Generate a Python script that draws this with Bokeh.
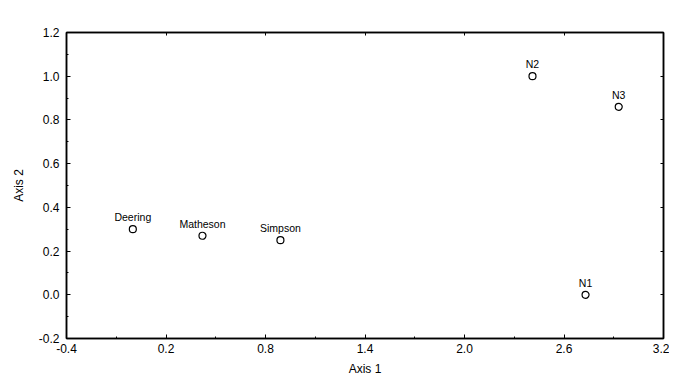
from bokeh.plotting import figure
from bokeh.models import ColumnDataSource, FixedTicker, LinearAxis, Range1d, CustomJSTickFormatter
from bokeh.core.properties import value
from bokeh.embed import file_html
from bokeh.resources import INLINE

# Data
sites = ["Deering", "Matheson", "Simpson", "N1", "N2", "N3"]
axis1 = [0.0, 0.42, 0.89, 2.73, 2.41, 2.93]
axis2 = [0.30, 0.27, 0.25, 0.00, 1.00, 0.86]

x_ticks = [-0.4, 0.2, 0.8, 1.4, 2.0, 2.6, 3.2]
y_ticks = [-0.2, 0.0, 0.2, 0.4, 0.6, 0.8, 1.0, 1.2]
x_minor = [-0.1, 0.5, 1.1, 1.7, 2.3, 2.9]
y_minor = [-0.1, 0.1, 0.3, 0.5, 0.7, 0.9, 1.1]

FONT = "Liberation Sans"

src = ColumnDataSource(dict(x=axis1, y=axis2, name=sites))

p = figure(width=669, height=378, output_backend="svg", toolbar_location=None,
           x_range=Range1d(-0.4, 3.2), y_range=Range1d(-0.2, 1.2),
           min_border_left=66, min_border_right=6, min_border_top=32,
           min_border_bottom=36, x_axis_label="Axis 1", y_axis_label="Axis 2")

p.grid.visible = False
p.outline_line_color = "black"
p.outline_line_width = 1.5
p.outline_line_alpha = 1.0
p.background_fill_color = "white"
p.border_fill_color = "white"

p.xaxis.ticker = FixedTicker(ticks=x_ticks, minor_ticks=x_minor)
p.yaxis.ticker = FixedTicker(ticks=y_ticks, minor_ticks=y_minor)
p.xaxis.formatter = CustomJSTickFormatter(code="return tick.toFixed(1);")
p.yaxis.formatter = CustomJSTickFormatter(code="return tick.toFixed(1);")

for ax in (p.xaxis[0], p.yaxis[0]):
    ax.axis_line_color = "black"
    ax.axis_line_width = 1.5
    ax.major_tick_in = 4
    ax.major_tick_out = 0
    ax.minor_tick_in = 2
    ax.minor_tick_out = 0
    ax.major_tick_line_color = "black"
    ax.minor_tick_line_color = "black"
    ax.major_label_text_font = FONT
    ax.major_label_text_font_size = "12px"
    ax.major_label_text_color = "black"
    ax.axis_label_text_font = FONT
    ax.axis_label_text_font_size = "12px"
    ax.axis_label_text_font_style = "normal"
    ax.axis_label_text_color = "black"

p.xaxis.major_label_standoff = 5
p.xaxis.axis_label_standoff = 6
p.yaxis.major_label_standoff = 7
p.yaxis.axis_label_standoff = 10

for loc, tk in (("right", y_ticks), ("above", x_ticks)):
    a = LinearAxis(ticker=FixedTicker(ticks=tk, minor_ticks=[]))
    a.major_tick_in = 3
    a.major_tick_out = 0
    a.axis_line_color = "black"
    a.axis_line_width = 1.5
    a.major_label_text_font_size = "0px"
    a.major_label_standoff = 0
    a.major_label_text_alpha = 0
    p.add_layout(a, loc)

p.scatter("x", "y", source=src, marker="circle", size=7, fill_color="white",
          line_color="black", line_width=1.2)
p.text("x", "y", text="name", source=src, text_align="center",
       text_baseline="bottom", y_offset=-6, text_font=value(FONT),
       text_font_size="10.5px", text_color="black")

open("out.html", "w").write(file_html(p, INLINE))
